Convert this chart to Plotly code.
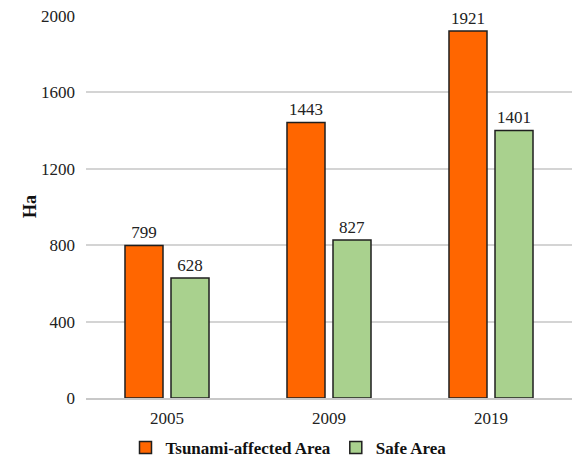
import plotly.graph_objects as go

years = ["2005", "2009", "2019"]
tsunami_area = [799, 1443, 1921]
safe_area = [628, 827, 1401]
y_ticks = [0, 400, 800, 1200, 1600, 2000]

serif = "Liberation Serif, Times New Roman, serif"
edge = dict(color="#1f1f1f", width=1.5)

fig = go.Figure()
fig.add_trace(go.Bar(
    x=years, y=tsunami_area, name="Tsunami-affected Area",
    marker=dict(color="#FF6600", line=edge),
    text=[str(v) for v in tsunami_area], textposition="outside",
    textfont=dict(family=serif, size=17, color="#222222"),
    cliponaxis=False,
))
fig.add_trace(go.Bar(
    x=years, y=safe_area, name="Safe Area",
    marker=dict(color="#A9D18E", line=edge),
    text=[str(v) for v in safe_area], textposition="outside",
    textfont=dict(family=serif, size=17, color="#222222"),
    cliponaxis=False,
))

fig.update_layout(
    width=577, height=458,
    margin=dict(l=86, r=5, t=16, b=60, autoexpand=False),
    paper_bgcolor="white", plot_bgcolor="white",
    barmode="group", bargap=0.432, bargroupgap=0.174,
    font=dict(family=serif, size=17, color="#222222"),
    showlegend=True,
    legend=dict(
        orientation="h", xref="container", x=0.5, xanchor="center",
        yref="container", y=0.022, yanchor="middle",
        bgcolor="rgba(0,0,0,0)",
        font=dict(family=serif, size=17, color="#111111", weight="bold"),
        itemwidth=30, traceorder="normal",
    ),
    yaxis=dict(
        range=[0, 2000], tickvals=y_ticks, ticktext=[str(t) for t in y_ticks],
        showgrid=True, gridcolor="#d4d4d4", gridwidth=2,
        zeroline=False, showline=False, ticks="", ticklabelstandoff=10,
    ),
    xaxis=dict(
        showline=True, linecolor="#c8c8c8", linewidth=2,
        ticks="", tickfont=dict(size=17), ticklabelstandoff=4,
    ),
    annotations=[dict(
        text="<b>Ha</b>", textangle=-90, showarrow=False,
        xref="paper", x=-0.115, xanchor="center",
        yref="paper", y=0.5, yanchor="middle",
        font=dict(family=serif, size=18, color="#111111"),
    )],
)

fig.write_html("out.html")
